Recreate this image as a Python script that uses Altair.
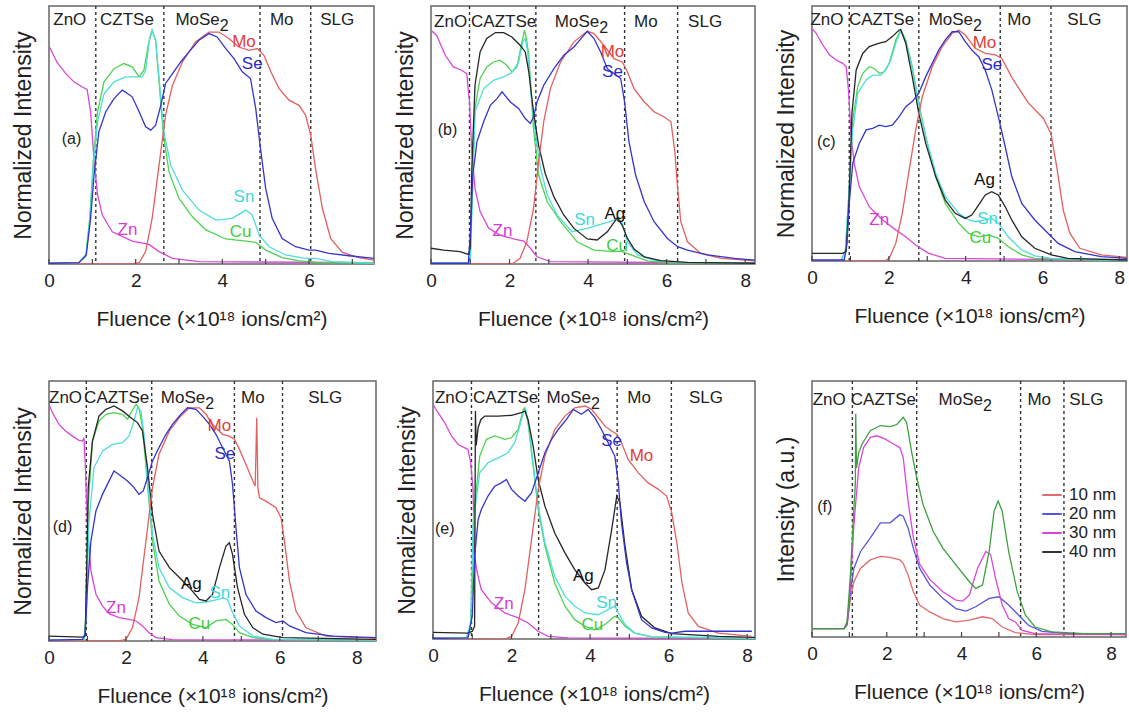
import altair as alt
import pandas as pd

FONT = "Liberation Sans"
TXT = "#222222"

# ---------------- element colours ----------------
EL_NAMES = ["Zn", "Cu", "Sn", "Ag", "Mo", "Se"]
EL_COLORS = ["#d847d8", "#4fd24f", "#4fdcdc", "#262626", "#e36060", "#3434cc"]
LBL_COLORS = {"Zn": "#d63ad6", "Cu": "#3fcc3f", "Sn": "#3fd8d8", "Ag": "#111111",
              "Mo": "#e23c3c", "Se": "#2c2cc8"}
NM_NAMES = ["10 nm", "20 nm", "30 nm", "40 nm"]
NM_COLORS = ["#e36b6b", "#5555dd", "#dd44dd", "#3ca03c"]
NM_LEGEND_COLORS = ["#e36b6b", "#5555dd", "#dd44dd", "#333333"]

XTITLE = "Fluence (×10¹⁸ ions/cm²)"
TICK_VALUES = [0, 1, 2, 3, 4, 5, 6, 7, 8]
LABEL_VALUES = [0, 2, 4, 6, 8]

# ---------------- panel (a) ----------------
a_zn_x = [0, 0.19, 0.38, 0.58, 0.77, 0.88, 0.96, 1.04, 1.12, 1.23, 1.46, 1.92, 2.31, 2.54, 2.85, 3.46, 7.5]
a_zn_y = [0.845, 0.78, 0.74, 0.705, 0.686, 0.677, 0.59, 0.40, 0.27, 0.19, 0.125, 0.089, 0.076, 0.048, 0.022, 0.009, 0.005]
a_cu_x = [0, 0.69, 0.85, 0.94, 1.02, 1.12, 1.27, 1.5, 1.73, 1.92, 2.08, 2.19, 2.29, 2.38, 2.46, 2.54, 2.64, 2.77, 3.0, 3.31, 3.62, 4.08, 4.54, 4.77, 5.0, 5.38, 5.77, 6.23, 7.5]
a_cu_y = [0.003, 0.005, 0.035, 0.177, 0.396, 0.59, 0.706, 0.757, 0.777, 0.764, 0.725, 0.751, 0.848, 0.906, 0.867, 0.706, 0.50, 0.357, 0.254, 0.183, 0.132, 0.097, 0.089, 0.084, 0.054, 0.025, 0.012, 0.005, 0.003]
a_sn_x = [0, 0.69, 0.85, 0.94, 1.02, 1.12, 1.27, 1.5, 1.77, 2.0, 2.15, 2.23, 2.32, 2.38, 2.46, 2.54, 2.65, 2.81, 3.08, 3.46, 3.85, 4.23, 4.54, 4.69, 4.85, 5.08, 5.46, 5.92, 6.15, 6.54, 7.5]
a_sn_y = [0.003, 0.005, 0.028, 0.164, 0.37, 0.55, 0.66, 0.706, 0.725, 0.725, 0.725, 0.751, 0.874, 0.906, 0.867, 0.719, 0.512, 0.383, 0.286, 0.209, 0.17, 0.177, 0.209, 0.19, 0.112, 0.067, 0.035, 0.022, 0.022, 0.009, 0.003]
a_se_x = [0, 0.69, 0.86, 0.96, 1.04, 1.15, 1.31, 1.5, 1.69, 1.81, 1.92, 2.08, 2.23, 2.35, 2.46, 2.58, 2.69, 2.85, 3.04, 3.23, 3.46, 3.69, 3.88, 4.08, 4.27, 4.46, 4.65, 4.77, 4.88, 5.0, 5.15, 5.38, 5.69, 6.0, 6.15, 6.46, 6.92, 7.5]
a_se_y = [0.003, 0.005, 0.035, 0.177, 0.345, 0.512, 0.59, 0.641, 0.674, 0.661, 0.648, 0.59, 0.532, 0.519, 0.538, 0.615, 0.70, 0.738, 0.783, 0.822, 0.867, 0.893, 0.88, 0.835, 0.796, 0.745, 0.719, 0.603, 0.448, 0.293, 0.177, 0.099, 0.067, 0.054, 0.054, 0.041, 0.032, 0.022]
a_mo_x = [0, 1.92, 2.08, 2.23, 2.38, 2.54, 2.69, 2.85, 3.08, 3.38, 3.69, 3.92, 4.15, 4.38, 4.62, 4.81, 4.96, 5.12, 5.31, 5.54, 5.77, 5.92, 6.04, 6.15, 6.31, 6.5, 6.77, 7.15, 7.5]
a_mo_y = [0, 0, 0.005, 0.048, 0.177, 0.383, 0.577, 0.693, 0.783, 0.861, 0.899, 0.899, 0.874, 0.841, 0.828, 0.835, 0.809, 0.745, 0.68, 0.635, 0.615, 0.577, 0.50, 0.37, 0.215, 0.099, 0.045, 0.025, 0.015]
a_div = [1.08, 2.65, 4.87, 6.04]
a_reg_t = ["ZnO", "CZTSe", "MoSe₂", "Mo", "SLG"]
a_reg_x = [0.48, 1.8, 3.55, 5.37, 6.65]
a_lab_t = ["Mo", "Se", "Sn", "Cu", "Zn"]
a_lab_x = [4.5, 4.69, 4.5, 4.42, 1.81]
a_lab_y = [0.86, 0.777, 0.26, 0.125, 0.132]

# ---------------- panel (b) ----------------
b_zn_x = [0, 0.145, 0.36, 0.57, 0.78, 0.91, 0.98, 1.04, 1.12, 1.25, 1.47, 1.76, 2.1, 2.36, 2.53, 2.7, 3.04, 8.25]
b_zn_y = [0.906, 0.886, 0.81, 0.764, 0.751, 0.738, 0.628, 0.435, 0.293, 0.203, 0.138, 0.112, 0.097, 0.089, 0.061, 0.028, 0.009, 0.003]
b_ag_x = [0, 0.32, 0.74, 0.95, 1.0, 1.04, 1.12, 1.25, 1.42, 1.64, 1.85, 2.06, 2.27, 2.4, 2.49, 2.61, 2.74, 2.91, 3.13, 3.38, 3.64, 3.98, 4.23, 4.49, 4.74, 4.87, 5.0, 5.17, 5.43, 5.85, 6.53, 8.25]
b_ag_y = [0.061, 0.054, 0.048, 0.037, 0.061, 0.37, 0.693, 0.822, 0.874, 0.897, 0.897, 0.88, 0.848, 0.822, 0.745, 0.59, 0.46, 0.35, 0.26, 0.19, 0.138, 0.097, 0.093, 0.125, 0.179, 0.15, 0.10, 0.058, 0.028, 0.013, 0.006, 0.003]
b_cu_x = [0, 0.95, 1.0, 1.05, 1.12, 1.25, 1.42, 1.59, 1.76, 1.93, 2.06, 2.19, 2.3, 2.38, 2.43, 2.49, 2.61, 2.74, 2.96, 3.3, 3.72, 4.15, 4.66, 4.83, 5.09, 5.51, 6.11, 8.25]
b_cu_y = [0.003, 0.003, 0.009, 0.293, 0.603, 0.719, 0.764, 0.783, 0.79, 0.77, 0.745, 0.764, 0.848, 0.906, 0.874, 0.809, 0.525, 0.345, 0.241, 0.164, 0.086, 0.054, 0.048, 0.05, 0.035, 0.012, 0.004, 0.003]
b_sn_x = [0, 0.95, 1.0, 1.05, 1.12, 1.34, 1.59, 1.85, 2.06, 2.23, 2.34, 2.4, 2.46, 2.55, 2.66, 2.79, 2.96, 3.21, 3.59, 3.98, 4.4, 4.66, 4.79, 4.87, 5.0, 5.26, 5.68, 6.28, 8.25]
b_sn_y = [0.003, 0.003, 0.009, 0.241, 0.59, 0.68, 0.712, 0.725, 0.742, 0.783, 0.861, 0.874, 0.822, 0.654, 0.5, 0.37, 0.267, 0.19, 0.125, 0.138, 0.157, 0.17, 0.177, 0.157, 0.086, 0.035, 0.015, 0.006, 0.003]
b_se_x = [0, 0.95, 1.0, 1.065, 1.17, 1.34, 1.51, 1.68, 1.81, 2.02, 2.23, 2.4, 2.53, 2.61, 2.7, 2.87, 3.13, 3.38, 3.64, 3.89, 3.98, 4.15, 4.32, 4.49, 4.66, 4.83, 4.93, 5.04, 5.21, 5.43, 5.68, 6.02, 6.28, 6.53, 7.04, 7.73, 8.25]
b_se_y = [0.003, 0.003, 0.11, 0.345, 0.474, 0.551, 0.615, 0.641, 0.667, 0.628, 0.603, 0.564, 0.545, 0.57, 0.628, 0.693, 0.757, 0.809, 0.841, 0.886, 0.902, 0.874, 0.822, 0.757, 0.738, 0.719, 0.628, 0.474, 0.345, 0.241, 0.164, 0.099, 0.067, 0.054, 0.035, 0.022, 0.015]
b_mo_x = [0, 2.02, 2.1, 2.27, 2.44, 2.61, 2.74, 2.87, 3.04, 3.3, 3.64, 3.98, 4.15, 4.4, 4.66, 4.87, 5.0, 5.17, 5.43, 5.68, 5.94, 6.11, 6.21, 6.28, 6.36, 6.53, 6.87, 7.39, 8.25]
b_mo_y = [0, 0, 0.003, 0.022, 0.086, 0.215, 0.396, 0.551, 0.68, 0.783, 0.861, 0.902, 0.893, 0.848, 0.796, 0.783, 0.745, 0.68, 0.628, 0.59, 0.57, 0.551, 0.435, 0.293, 0.164, 0.086, 0.041, 0.022, 0.012]
b_div = [0.98, 2.67, 4.93, 6.28]
b_reg_t = ["ZnO", "CAZTSe", "MoSe₂", "Mo", "SLG"]
b_reg_x = [0.5, 1.85, 3.85, 5.47, 6.98]
b_lab_t = ["Mo", "Se", "Sn", "Ag", "Cu", "Zn"]
b_lab_x = [4.62, 4.62, 3.91, 4.68, 4.74, 1.82]
b_lab_y = [0.822, 0.745, 0.17, 0.192, 0.071, 0.128]

# ---------------- panel (c) ----------------
c_zn_x = [0, 0.11, 0.28, 0.46, 0.63, 0.8, 0.89, 0.95, 1.02, 1.1, 1.23, 1.49, 1.84, 2.18, 2.44, 2.7, 3.04, 3.47, 8.2]
c_zn_y = [0.912, 0.893, 0.847, 0.808, 0.788, 0.775, 0.762, 0.67, 0.488, 0.383, 0.292, 0.213, 0.161, 0.122, 0.095, 0.063, 0.03, 0.01, 0.004]
c_ag_x = [0, 0.8, 0.89, 0.96, 1.04, 1.15, 1.32, 1.49, 1.75, 1.92, 2.09, 2.27, 2.31, 2.44, 2.61, 2.78, 2.96, 3.22, 3.47, 3.73, 3.99, 4.16, 4.34, 4.51, 4.68, 4.85, 5.03, 5.2, 5.46, 5.8, 6.23, 6.66, 8.2]
c_ag_y = [0.03, 0.03, 0.037, 0.226, 0.579, 0.749, 0.814, 0.841, 0.854, 0.86, 0.88, 0.906, 0.908, 0.854, 0.723, 0.579, 0.461, 0.331, 0.239, 0.187, 0.167, 0.18, 0.22, 0.259, 0.272, 0.259, 0.213, 0.161, 0.095, 0.05, 0.024, 0.01, 0.004]
c_cu_x = [0, 0.76, 0.87, 0.97, 1.06, 1.19, 1.32, 1.49, 1.62, 1.75, 1.88, 2.01, 2.18, 2.31, 2.44, 2.61, 2.78, 2.96, 3.22, 3.47, 3.82, 4.08, 4.34, 4.59, 4.85, 5.11, 5.46, 5.8, 8.2]
c_cu_y = [0.0, 0.001, 0.043, 0.29, 0.553, 0.684, 0.736, 0.762, 0.755, 0.736, 0.742, 0.775, 0.867, 0.906, 0.867, 0.762, 0.618, 0.488, 0.331, 0.226, 0.148, 0.108, 0.095, 0.102, 0.089, 0.056, 0.024, 0.01, 0.001]
c_sn_x = [0, 0.76, 0.87, 0.97, 1.06, 1.19, 1.41, 1.58, 1.79, 1.92, 2.05, 2.18, 2.31, 2.44, 2.61, 2.78, 2.96, 3.22, 3.47, 3.82, 4.08, 4.25, 4.51, 4.68, 4.85, 5.11, 5.46, 5.8, 6.23, 8.2]
c_sn_y = [0.0, 0.001, 0.04, 0.278, 0.514, 0.658, 0.71, 0.729, 0.729, 0.749, 0.788, 0.854, 0.903, 0.864, 0.756, 0.612, 0.488, 0.344, 0.252, 0.187, 0.161, 0.154, 0.161, 0.167, 0.148, 0.095, 0.043, 0.02, 0.01, 0.001]
c_se_x = [0, 0.84, 0.91, 0.97, 1.06, 1.23, 1.41, 1.58, 1.75, 1.92, 2.09, 2.27, 2.44, 2.61, 2.78, 2.96, 3.13, 3.3, 3.47, 3.65, 3.82, 3.99, 4.16, 4.34, 4.51, 4.68, 4.85, 5.03, 5.2, 5.46, 5.8, 6.15, 6.41, 6.84, 7.53, 8.2]
c_se_y = [0.004, 0.004, 0.069, 0.226, 0.383, 0.461, 0.514, 0.52, 0.533, 0.527, 0.533, 0.566, 0.605, 0.625, 0.658, 0.723, 0.775, 0.827, 0.867, 0.899, 0.899, 0.86, 0.827, 0.801, 0.749, 0.671, 0.566, 0.448, 0.331, 0.226, 0.161, 0.108, 0.069, 0.037, 0.017, 0.01]
c_mo_x = [0, 1.88, 2.01, 2.18, 2.35, 2.53, 2.7, 2.87, 3.13, 3.39, 3.65, 3.82, 3.99, 4.25, 4.51, 4.77, 4.94, 5.2, 5.63, 6.02, 6.22, 6.37, 6.54, 6.71, 6.97, 7.53, 8.2]
c_mo_y = [0, 0, 0.01, 0.069, 0.187, 0.357, 0.514, 0.644, 0.762, 0.841, 0.893, 0.906, 0.886, 0.834, 0.814, 0.808, 0.795, 0.72, 0.62, 0.56, 0.5, 0.37, 0.2, 0.11, 0.05, 0.024, 0.014]
c_div = [0.97, 2.78, 4.9, 6.22]
c_reg_t = ["ZnO", "CAZTSe", "MoSe₂", "Mo", "SLG"]
c_reg_x = [0.39, 1.81, 3.75, 5.39, 7.09]
c_lab_t = ["Mo", "Se", "Ag", "Sn", "Cu", "Zn"]
c_lab_x = [4.49, 4.68, 4.49, 4.57, 4.38, 1.75]
c_lab_y = [0.854, 0.769, 0.318, 0.163, 0.089, 0.161]

# ---------------- panel (d) ----------------
d_zn_x = [0, 0.09, 0.26, 0.43, 0.61, 0.78, 0.87, 0.91, 0.95, 1.0, 1.09, 1.22, 1.39, 1.56, 1.82, 2.08, 2.26, 2.43, 2.6, 2.78, 3.21, 8.5]
d_zn_y = [0.91, 0.878, 0.833, 0.808, 0.788, 0.772, 0.769, 0.782, 0.654, 0.44, 0.27, 0.18, 0.135, 0.105, 0.09, 0.083, 0.077, 0.058, 0.032, 0.013, 0.005, 0.003]
d_ag_x = [0, 0.87, 0.94, 0.97, 1.02, 1.13, 1.3, 1.48, 1.69, 1.91, 2.13, 2.3, 2.43, 2.56, 2.69, 2.86, 3.13, 3.39, 3.65, 3.91, 4.08, 4.25, 4.43, 4.6, 4.69, 4.77, 4.9, 5.08, 5.3, 5.56, 6.08, 8.5]
d_ag_y = [0.019, 0.015, 0.019, 0.205, 0.59, 0.769, 0.865, 0.891, 0.904, 0.885, 0.859, 0.84, 0.808, 0.667, 0.487, 0.346, 0.282, 0.244, 0.205, 0.16, 0.154, 0.179, 0.282, 0.365, 0.378, 0.333, 0.205, 0.103, 0.051, 0.026, 0.013, 0.006]
d_cu_x = [0, 0.91, 0.95, 1.02, 1.13, 1.3, 1.48, 1.69, 1.91, 2.04, 2.13, 2.26, 2.34, 2.43, 2.56, 2.69, 2.86, 3.13, 3.39, 3.73, 4.08, 4.34, 4.6, 4.77, 4.95, 5.3, 5.82, 8.5]
d_cu_y = [0.003, 0.003, 0.077, 0.526, 0.769, 0.846, 0.872, 0.878, 0.872, 0.853, 0.878, 0.91, 0.897, 0.821, 0.603, 0.385, 0.231, 0.141, 0.096, 0.064, 0.051, 0.077, 0.083, 0.064, 0.032, 0.013, 0.005, 0.003]
d_sn_x = [0, 0.91, 0.97, 1.04, 1.17, 1.39, 1.65, 1.91, 2.08, 2.21, 2.3, 2.39, 2.47, 2.56, 2.69, 2.86, 3.13, 3.47, 3.82, 4.08, 4.34, 4.51, 4.64, 4.77, 4.95, 5.3, 5.82, 8.5]
d_sn_y = [0.003, 0.003, 0.103, 0.462, 0.667, 0.731, 0.756, 0.763, 0.788, 0.846, 0.897, 0.885, 0.795, 0.615, 0.41, 0.282, 0.205, 0.167, 0.147, 0.15, 0.158, 0.165, 0.16, 0.109, 0.058, 0.019, 0.006, 0.003]
d_se_x = [0, 0.87, 0.94, 1.0, 1.09, 1.22, 1.39, 1.56, 1.69, 1.87, 2.04, 2.21, 2.34, 2.45, 2.56, 2.69, 2.86, 3.04, 3.21, 3.43, 3.6, 3.82, 3.99, 4.17, 4.34, 4.51, 4.69, 4.77, 4.86, 4.95, 5.12, 5.38, 5.64, 5.9, 6.08, 6.25, 6.68, 7.38, 8.5]
d_se_y = [0.003, 0.006, 0.026, 0.205, 0.385, 0.5, 0.564, 0.615, 0.654, 0.635, 0.615, 0.59, 0.564, 0.577, 0.628, 0.692, 0.744, 0.795, 0.833, 0.872, 0.897, 0.891, 0.865, 0.833, 0.795, 0.744, 0.692, 0.603, 0.436, 0.282, 0.179, 0.115, 0.09, 0.071, 0.077, 0.058, 0.032, 0.019, 0.013]
d_mo_x = [0, 1.82, 2.0, 2.17, 2.34, 2.52, 2.69, 2.86, 3.13, 3.39, 3.65, 3.91, 4.08, 4.25, 4.51, 4.69, 4.82, 4.95, 5.12, 5.3, 5.36, 5.4, 5.43, 5.47, 5.64, 5.9, 6.03, 6.12, 6.25, 6.42, 6.68, 7.2, 8.5]
d_mo_y = [0, 0, 0.006, 0.051, 0.167, 0.385, 0.59, 0.718, 0.808, 0.859, 0.897, 0.897, 0.872, 0.833, 0.795, 0.788, 0.776, 0.737, 0.679, 0.615, 0.596, 0.859, 0.59, 0.551, 0.538, 0.513, 0.474, 0.385, 0.231, 0.115, 0.051, 0.019, 0.01]
d_div = [0.97, 2.67, 4.82, 6.07]
d_reg_t = ["ZnO", "CAZTSe", "MoSe₂", "Mo", "SLG"]
d_reg_x = [0.43, 1.76, 3.62, 5.3, 7.18]
d_lab_t = ["Mo", "Se", "Ag", "Sn", "Cu", "Zn"]
d_lab_x = [4.43, 4.57, 3.7, 4.44, 3.91, 1.74]
d_lab_y = [0.827, 0.72, 0.218, 0.186, 0.067, 0.126]

# ---------------- panel (e) ----------------
e_zn_x = [0, 0.13, 0.3, 0.47, 0.64, 0.81, 0.89, 0.96, 1.02, 1.06, 1.11, 1.23, 1.49, 1.83, 2.17, 2.42, 2.68, 2.93, 3.44, 8.2]
e_zn_y = [0.91, 0.877, 0.838, 0.787, 0.754, 0.741, 0.735, 0.683, 0.58, 0.321, 0.269, 0.191, 0.14, 0.101, 0.082, 0.062, 0.03, 0.01, 0.004, 0.001]
e_ag_x = [0, 0.89, 1.0, 1.06, 1.08, 1.1, 1.15, 1.22, 1.32, 1.66, 2.0, 2.25, 2.34, 2.42, 2.55, 2.68, 2.85, 3.1, 3.36, 3.61, 3.87, 4.04, 4.21, 4.38, 4.55, 4.68, 4.76, 4.89, 5.06, 5.31, 5.65, 6.08, 7.27, 8.2]
e_ag_y = [0.026, 0.023, 0.03, 0.05, 0.884, 0.75, 0.82, 0.851, 0.864, 0.864, 0.867, 0.877, 0.884, 0.851, 0.748, 0.618, 0.515, 0.411, 0.334, 0.269, 0.217, 0.191, 0.198, 0.269, 0.424, 0.554, 0.528, 0.36, 0.191, 0.088, 0.043, 0.021, 0.01, 0.006]
e_cu_x = [0, 0.85, 0.94, 1.0, 1.06, 1.19, 1.36, 1.57, 1.83, 2.0, 2.17, 2.3, 2.34, 2.42, 2.55, 2.68, 2.85, 3.1, 3.36, 3.61, 3.87, 4.12, 4.38, 4.63, 4.72, 4.89, 5.14, 5.57, 8.2]
e_cu_y = [0.003, 0.003, 0.023, 0.191, 0.515, 0.709, 0.774, 0.787, 0.774, 0.78, 0.812, 0.89, 0.896, 0.838, 0.67, 0.502, 0.36, 0.217, 0.127, 0.075, 0.049, 0.036, 0.056, 0.088, 0.082, 0.049, 0.023, 0.008, 0.003]
e_sn_x = [0, 0.85, 0.96, 1.02, 1.19, 1.4, 1.66, 1.91, 2.08, 2.21, 2.3, 2.36, 2.44, 2.55, 2.68, 2.85, 3.1, 3.36, 3.61, 3.87, 4.21, 4.46, 4.63, 4.72, 4.89, 5.14, 5.57, 8.2]
e_sn_y = [0.003, 0.003, 0.062, 0.45, 0.644, 0.683, 0.702, 0.722, 0.761, 0.825, 0.877, 0.89, 0.825, 0.683, 0.515, 0.373, 0.243, 0.166, 0.127, 0.101, 0.094, 0.114, 0.127, 0.101, 0.056, 0.023, 0.008, 0.003]
e_se_x = [0, 0.89, 1.0, 1.06, 1.15, 1.23, 1.4, 1.57, 1.74, 1.87, 2.0, 2.17, 2.34, 2.51, 2.68, 2.85, 3.02, 3.19, 3.4, 3.57, 3.78, 3.95, 4.12, 4.29, 4.46, 4.63, 4.72, 4.8, 4.93, 5.06, 5.31, 5.57, 5.91, 6.08, 6.42, 8.12]
e_se_y = [0.003, 0.004, 0.088, 0.321, 0.463, 0.502, 0.554, 0.592, 0.605, 0.618, 0.58, 0.554, 0.534, 0.567, 0.644, 0.722, 0.774, 0.812, 0.851, 0.89, 0.871, 0.89, 0.858, 0.812, 0.761, 0.709, 0.605, 0.45, 0.295, 0.191, 0.075, 0.043, 0.026, 0.023, 0.03, 0.03]
e_mo_x = [0, 1.83, 2.0, 2.17, 2.34, 2.51, 2.68, 2.85, 3.1, 3.36, 3.61, 3.87, 4.04, 4.21, 4.38, 4.55, 4.69, 4.8, 4.97, 5.23, 5.48, 5.74, 5.95, 6.08, 6.21, 6.34, 6.5, 6.76, 7.27, 8.12]
e_mo_y = [0, 0, 0.01, 0.062, 0.191, 0.386, 0.58, 0.709, 0.812, 0.864, 0.896, 0.903, 0.89, 0.858, 0.825, 0.806, 0.793, 0.761, 0.696, 0.644, 0.605, 0.58, 0.554, 0.489, 0.373, 0.217, 0.101, 0.049, 0.023, 0.01]
e_div = [0.98, 2.69, 4.69, 6.07]
e_reg_t = ["ZnO", "CAZTSe", "MoSe₂", "Mo", "SLG"]
e_reg_x = [0.47, 1.85, 3.59, 5.25, 6.95]
e_lab_t = ["Se", "Mo", "Ag", "Sn", "Cu", "Zn"]
e_lab_x = [4.55, 5.31, 3.83, 4.42, 4.06, 1.8]
e_lab_y = [0.767, 0.709, 0.243, 0.14, 0.056, 0.137]

# ---------------- panel (f) ----------------
f_10_x = [0, 0.86, 0.94, 1.03, 1.12, 1.3, 1.56, 1.83, 2.09, 2.35, 2.44, 2.57, 2.71, 2.88, 3.15, 3.5, 3.85, 4.21, 4.56, 4.82, 5.09, 5.44, 5.97, 8.4]
f_10_y = [0.033, 0.033, 0.046, 0.151, 0.216, 0.269, 0.301, 0.315, 0.311, 0.301, 0.288, 0.242, 0.177, 0.125, 0.098, 0.072, 0.059, 0.066, 0.079, 0.072, 0.039, 0.017, 0.009, 0.009]
f_20_x = [0, 0.86, 0.94, 1.03, 1.12, 1.3, 1.56, 1.83, 2.09, 2.35, 2.44, 2.57, 2.71, 2.88, 3.15, 3.5, 3.85, 4.12, 4.38, 4.74, 5.0, 5.26, 5.53, 5.79, 6.15, 6.85, 8.4]
f_20_y = [0.033, 0.033, 0.052, 0.177, 0.269, 0.334, 0.387, 0.446, 0.446, 0.478, 0.472, 0.426, 0.347, 0.269, 0.203, 0.151, 0.111, 0.101, 0.118, 0.151, 0.157, 0.125, 0.085, 0.046, 0.022, 0.013, 0.013]
f_30_x = [0, 0.86, 0.94, 1.03, 1.12, 1.25, 1.38, 1.56, 1.74, 1.96, 2.18, 2.35, 2.44, 2.57, 2.71, 2.88, 3.15, 3.5, 3.85, 4.03, 4.21, 4.43, 4.65, 4.78, 4.91, 5.09, 5.26, 5.44, 5.62, 5.97, 8.4]
f_30_y = [0.033, 0.033, 0.059, 0.203, 0.439, 0.662, 0.74, 0.78, 0.786, 0.773, 0.754, 0.74, 0.701, 0.53, 0.39, 0.285, 0.225, 0.177, 0.144, 0.14, 0.164, 0.269, 0.334, 0.321, 0.229, 0.125, 0.072, 0.059, 0.026, 0.013, 0.009]
f_40_x = [0, 0.86, 0.94, 1.03, 1.12, 1.16, 1.17, 1.19, 1.25, 1.34, 1.56, 1.83, 2.09, 2.27, 2.44, 2.53, 2.66, 2.8, 2.97, 3.24, 3.5, 3.85, 4.21, 4.38, 4.56, 4.74, 4.87, 4.98, 5.09, 5.26, 5.49, 5.71, 5.97, 6.41, 7.29, 8.4]
f_40_y = [0.033, 0.033, 0.059, 0.25, 0.5, 0.6, 0.872, 0.66, 0.72, 0.754, 0.806, 0.826, 0.822, 0.83, 0.858, 0.839, 0.727, 0.623, 0.518, 0.413, 0.347, 0.282, 0.216, 0.19, 0.203, 0.334, 0.491, 0.531, 0.491, 0.334, 0.177, 0.085, 0.039, 0.02, 0.013, 0.013]
f_div = [1.08, 2.8, 5.58, 6.74]
f_reg_t = ["ZnO", "CAZTSe", "MoSe₂", "Mo", "SLG"]
f_reg_x = [0.46, 1.91, 4.12, 6.08, 7.34]

TAGS = ["(a)", "(b)", "(c)", "(d)", "(e)", "(f)"]
TAG_X = [0.52, 0.42, 0.37, 0.35, 0.3, 0.34]
TAG_Y = [0.486, 0.519, 0.468, 0.438, 0.427, 0.507]
REG_Y = [0.945, 0.938, 0.945, 0.936, 0.935, 0.924]
X_MAX = [7.5, 8.25, 8.2, 8.5, 8.2, 8.4]
SUB = "₂"


def make_panel(curves, names, colors, xmax, div, reg_t, reg_x, reg_y,
               lab_t, lab_x, lab_y, tag, tag_x, tag_y, w, h, ytitle, legend=None,
               legend_colors=None):
    rows = [{"x": xv, "y": yv, "s": nm} for nm, xs, ys in curves for xv, yv in zip(xs, ys)]
    df = pd.DataFrame(rows)
    xaxis = alt.Axis(values=LABEL_VALUES, format="d", title=XTITLE, ticks=False, domain=False,
                     grid=False, labelFontSize=19, labelPadding=7, labelFlush=False,
                     titleFontSize=21, titlePadding=18, titleFontWeight="normal",
                     labelColor=TXT, titleColor=TXT, labelFont=FONT, titleFont=FONT)
    yaxis = alt.Axis(title=ytitle, labels=False, ticks=False, domain=False, grid=False,
                     titleFontSize=23, titlePadding=14, titleFontWeight="normal",
                     titleColor=TXT, titleFont=FONT)
    X = alt.X("x:Q", scale=alt.Scale(domain=[0, xmax], nice=False, zero=False), axis=xaxis)
    Y = alt.Y("y:Q", scale=alt.Scale(domain=[0, 1], nice=False, zero=False), axis=yaxis)

    layers = []
    div_df = pd.DataFrame({"x": div})
    layers.append(alt.Chart(div_df).mark_rule(color="#333333", strokeWidth=1.4,
                                              strokeDash=[3, 3]).encode(x=X))
    if legend is not None:
        # invisible copy of the curves that only carries the legend entries
        layers.append(alt.Chart(df).mark_line(opacity=0).encode(
            x=X, y=Y,
            stroke=alt.Stroke("s:N", scale=alt.Scale(domain=names, range=legend_colors),
                              legend=legend)))
    layers.append(alt.Chart(df).mark_line(strokeWidth=1.3, clip=True).encode(
        x=X, y=Y,
        color=alt.Color("s:N", scale=alt.Scale(domain=names, range=colors), legend=None)))

    tick_df = pd.DataFrame({"x": [t for t in TICK_VALUES if t <= xmax]})
    layers.append(alt.Chart(tick_df).mark_rule(color="#444444", strokeWidth=1.2).encode(
        x=X, y=alt.value(h), y2=alt.value(h - 5)))

    # region names; a trailing subscript 2 is drawn as a lowered full-size digit
    plain = [t for t in reg_t if not t.endswith(SUB)]
    plain_x = [xv for t, xv in zip(reg_t, reg_x) if not t.endswith(SUB)]
    subbed = [t[:-1] for t in reg_t if t.endswith(SUB)]
    subbed_x = [xv for t, xv in zip(reg_t, reg_x) if t.endswith(SUB)]
    reg_df = pd.DataFrame({"x": plain_x, "y": [reg_y] * len(plain_x), "t": plain})
    layers.append(alt.Chart(reg_df).mark_text(fontSize=17, font=FONT, color=TXT,
                                              baseline="middle").encode(x=X, y=Y, text="t:N"))
    if subbed:
        sub_df = pd.DataFrame({"x": subbed_x, "y": [reg_y] * len(subbed_x), "t": subbed,
                               "s": ["2"] * len(subbed_x)})
        layers.append(alt.Chart(sub_df).mark_text(fontSize=17, font=FONT, color=TXT,
                                                  baseline="middle", align="right", dx=17).encode(
            x=X, y=Y, text="t:N"))
        layers.append(alt.Chart(sub_df).mark_text(fontSize=16, font=FONT, color=TXT,
                                                  baseline="middle", align="left", dx=17, dy=6).encode(
            x=X, y=Y, text="s:N"))
    if lab_t:
        lab_df = pd.DataFrame({"x": lab_x, "y": lab_y, "t": lab_t,
                               "c": [LBL_COLORS[t] for t in lab_t]})
        layers.append(alt.Chart(lab_df).mark_text(fontSize=17, font=FONT, baseline="middle").encode(
            x=X, y=Y, text="t:N", fill=alt.Fill("c:N", scale=None)))
    tag_df = pd.DataFrame({"x": [tag_x], "y": [tag_y], "t": [tag]})
    layers.append(alt.Chart(tag_df).mark_text(fontSize=16, font=FONT, color=TXT,
                                              baseline="middle").encode(x=X, y=Y, text="t:N"))
    return alt.layer(*layers).properties(width=w, height=h)


YT = "Normalized Intensity"
pa = make_panel([("Zn", a_zn_x, a_zn_y), ("Cu", a_cu_x, a_cu_y), ("Sn", a_sn_x, a_sn_y),
                 ("Mo", a_mo_x, a_mo_y), ("Se", a_se_x, a_se_y)],
                EL_NAMES, EL_COLORS, X_MAX[0], a_div, a_reg_t, a_reg_x, REG_Y[0],
                a_lab_t, a_lab_x, a_lab_y, TAGS[0], TAG_X[0], TAG_Y[0], 325, 258, YT)
pb = make_panel([("Zn", b_zn_x, b_zn_y), ("Cu", b_cu_x, b_cu_y), ("Sn", b_sn_x, b_sn_y),
                 ("Ag", b_ag_x, b_ag_y), ("Mo", b_mo_x, b_mo_y), ("Se", b_se_x, b_se_y)],
                EL_NAMES, EL_COLORS, X_MAX[1], b_div, b_reg_t, b_reg_x, REG_Y[1],
                b_lab_t, b_lab_x, b_lab_y, TAGS[1], TAG_X[1], TAG_Y[1], 324, 258, YT)
pc = make_panel([("Zn", c_zn_x, c_zn_y), ("Cu", c_cu_x, c_cu_y), ("Sn", c_sn_x, c_sn_y),
                 ("Ag", c_ag_x, c_ag_y), ("Mo", c_mo_x, c_mo_y), ("Se", c_se_x, c_se_y)],
                EL_NAMES, EL_COLORS, X_MAX[2], c_div, c_reg_t, c_reg_x, REG_Y[2],
                c_lab_t, c_lab_x, c_lab_y, TAGS[2], TAG_X[2], TAG_Y[2], 315, 255, YT)
pd_ = make_panel([("Zn", d_zn_x, d_zn_y), ("Cu", d_cu_x, d_cu_y), ("Sn", d_sn_x, d_sn_y),
                  ("Ag", d_ag_x, d_ag_y), ("Mo", d_mo_x, d_mo_y), ("Se", d_se_x, d_se_y)],
                 EL_NAMES, EL_COLORS, X_MAX[3], d_div, d_reg_t, d_reg_x, REG_Y[3],
                 d_lab_t, d_lab_x, d_lab_y, TAGS[3], TAG_X[3], TAG_Y[3], 327, 260, YT)
pe = make_panel([("Zn", e_zn_x, e_zn_y), ("Cu", e_cu_x, e_cu_y), ("Sn", e_sn_x, e_sn_y),
                 ("Ag", e_ag_x, e_ag_y), ("Mo", e_mo_x, e_mo_y), ("Se", e_se_x, e_se_y)],
                EL_NAMES, EL_COLORS, X_MAX[4], e_div, e_reg_t, e_reg_x, REG_Y[4],
                e_lab_t, e_lab_x, e_lab_y, TAGS[4], TAG_X[4], TAG_Y[4], 322, 258, YT)

f_legend = alt.Legend(orient="none", legendX=229, legendY=103, title=None,
                      symbolType="stroke", symbolSize=380, symbolStrokeWidth=2,
                      symbolOpacity=1, labelFontSize=17, labelFont=FONT, labelColor=TXT,
                      labelOffset=6, rowPadding=0, padding=0)
pf = make_panel([("10 nm", f_10_x, f_10_y), ("20 nm", f_20_x, f_20_y),
                 ("30 nm", f_30_x, f_30_y), ("40 nm", f_40_x, f_40_y)],
                NM_NAMES, NM_COLORS, X_MAX[5], f_div, f_reg_t, f_reg_x, REG_Y[5],
                [], [], [], TAGS[5], TAG_X[5], TAG_Y[5], 314, 256, "Intensity (a.u.)",
                legend=f_legend, legend_colors=NM_LEGEND_COLORS)

row1 = alt.hconcat(pa, pb, pc, spacing=18).resolve_scale(color="independent", stroke="independent")
row2 = alt.hconcat(pd_, pe, pf, spacing=18).resolve_scale(color="independent", stroke="independent")
chart = (
    alt.vconcat(row1, row2, spacing=49)
    .resolve_scale(color="independent", stroke="independent")
    .properties(padding={"left": 11, "top": 4, "right": 0, "bottom": 0})
    .configure(font=FONT)
    .configure_view(stroke="#666666", strokeWidth=1.5)
)

chart.save("out.html", embed_options={"renderer": "svg", "actions": False})
